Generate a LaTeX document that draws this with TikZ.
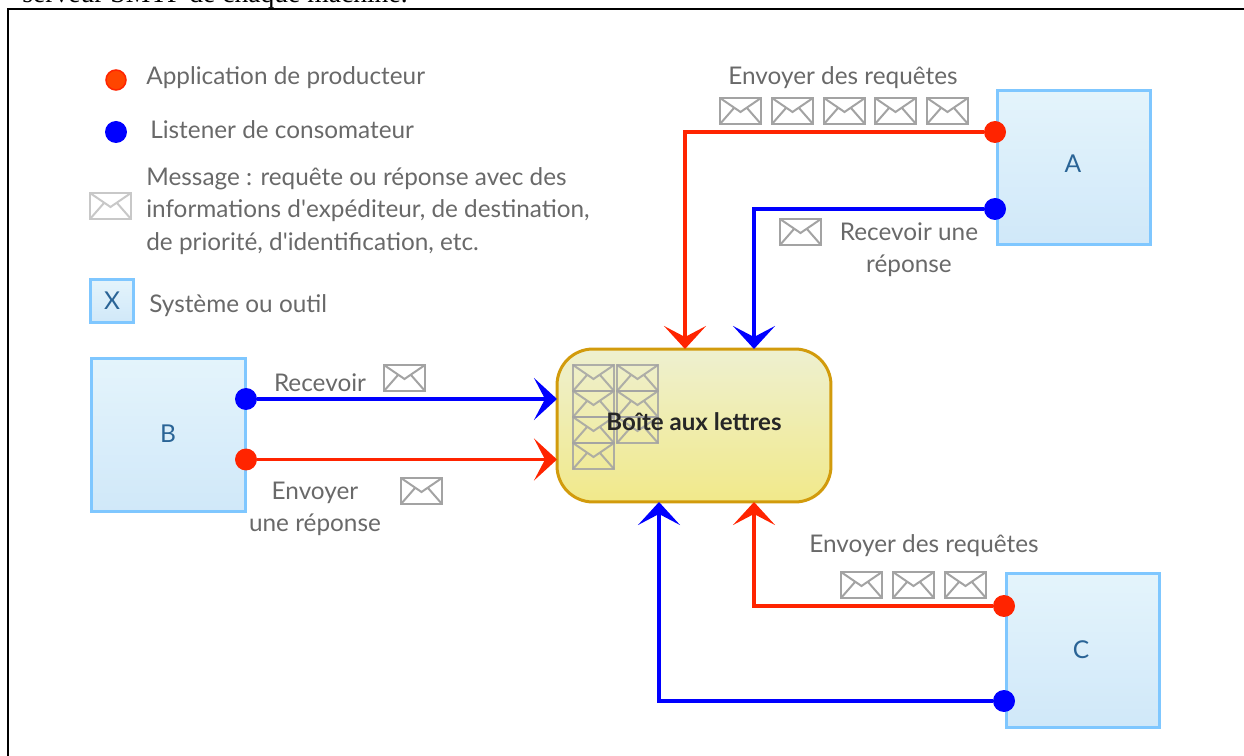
\documentclass[tikz,border=0pt]{standalone}
\usepackage{fontspec}
\setmainfont{Lato}
\newfontfamily\pageserif{Liberation Serif}
\usetikzlibrary{arrows.meta,positioning}
\definecolor{ProdRed}{HTML}{FF2400}
\definecolor{LegendRed}{HTML}{FF4500}
\definecolor{ConsBlue}{HTML}{0000FF}
\definecolor{SysEdge}{HTML}{7FC7FF}
\definecolor{SysTop}{HTML}{E4F4FB}
\definecolor{SysBottom}{HTML}{D0E8F9}
\definecolor{SysInk}{HTML}{2A6496}
\definecolor{BoxEdge}{HTML}{D29B0C}
\definecolor{BoxTop}{HTML}{EEF0D0}
\definecolor{BoxBottom}{HTML}{F1E98A}
\definecolor{MsgInk}{HTML}{696969}
\definecolor{EnvLine}{HTML}{A3A3A3}

\begin{document}
\begin{tikzpicture}[
      x=0.02cm, y=-0.02cm,
      MsgText/.style={text=MsgInk, font=\fontsize{13.85}{18.4}\selectfont, inner sep=0pt},
      SysName/.style={text=SysInk, font=\fontsize{14}{16}\selectfont},
      SysBox/.style={draw=SysEdge, line width=0.06cm, top color=SysTop, bottom color=SysBottom,
        minimum width=3.08cm, minimum height=3.08cm, inner sep=0pt},
      Port/.style={circle, fill=#1, minimum size=0.44cm, inner sep=0pt},
      Wire/.style={draw=#1, line width=0.07cm, -{Stealth[length=0.46cm, width=0.84cm, inset=0.22cm]}},
      pics/envelope/.style={code={
        \draw[draw=#1, line width=0.05cm] (0,0) rectangle (41,26);
        \draw[draw=#1, line width=0.04cm] (0,0) -- (20.5,14) -- (41,0) (0,26) -- (14,10) (41,26) -- (27,10);
      }},
      ]
      \useasboundingbox (0,0) rectangle (1244,756);

      \node[anchor=base west, inner sep=0pt, font=\pageserif\fontsize{15.7}{18}\selectfont] (PageLine) at (22,3) {serveur SMTP de chaque machine.};
      \draw[line width=0.05cm] (8,756) -- (8,9) -- (1244,9);

      % legend
      \node[Port=LegendRed, draw=ProdRed, line width=0.03cm, minimum size=0.4cm] (LegendProd) at (116,80) {};
      \node[Port=ConsBlue] (LegendCons) at (116,132) {};
      \node[MsgText, anchor=west] (ProdText) at (146,78) {Application de producteur};
      \node[MsgText, anchor=west] (ConsText) at (150,130) {Listener de consomateur};
      \pic at (90,193) {envelope=EnvLine!60};
      \node[MsgText, anchor=west, align=left] (MsgLegend) at (146,211) {Message : requête ou réponse avec des\\informations d\textquotesingle expéditeur, de destination,\\de priorité, d\textquotesingle identification, etc.};
      \node[SysBox, minimum width=0.88cm, minimum height=0.88cm] (LegendSys) at (112,301) {};
      \node[SysName] (LegendSysName) at (112,301) {X};
      \node[MsgText, anchor=west] (SysText) at (149,306) {Système ou outil};

      % systems
      \node[SysBox] (A) at (1074,167.5) {};
      \node[SysBox] (B) at (168.5,435) {};
      \node[SysBox] (C) at (1083,650.5) {};
      \node[SysName] (Aname) at (1073,164) {A};
      \node[SysName] (Bname) at (168,434) {B};
      \node[SysName] (Cname) at (1081,650) {C};

      % mailbox
      \node[draw=BoxEdge, line width=0.06cm, rounded corners=0.72cm, top color=BoxTop, bottom color=BoxBottom,
        minimum width=5.48cm, minimum height=3.06cm] (Mailbox) at (694,425.5) {};
      \foreach \row in {365,391,417,443} \pic[opacity=0.85] at (573,\row) {envelope=EnvLine};
      \foreach \row in {365,391,417} \pic[opacity=0.85] at (617,\row) {envelope=EnvLine};
      \node[font=\bfseries\fontsize{13.7}{16}\selectfont, text=black!85] (MailboxName) at (694,422) {Boîte aux lettres};

      % arrow ends on the mailbox
      \coordinate (TopProd) at (685,349);
      \coordinate (TopCons) at (754,349);
      \coordinate (LeftCons) at (557,399);
      \coordinate (LeftProd) at (557,459.5);
      \coordinate (BottomCons) at (659,502);
      \coordinate (BottomProd) at (754,502);

      \node[Port=ProdRed] (Aprod) at (995,132) {};
      \node[Port=ConsBlue] (Acons) at (995,209) {};
      \node[Port=ConsBlue] (Bcons) at (246,399) {};
      \node[Port=ProdRed] (Bprod) at (246,459.5) {};
      \node[Port=ProdRed] (Cprod) at (1004,606) {};
      \node[Port=ConsBlue] (Ccons) at (1004,701) {};

      \draw[Wire=ProdRed] (Aprod) -| (TopProd);
      \draw[Wire=ConsBlue] (Acons) -| (TopCons);
      \draw[Wire=ConsBlue] (Bcons) -- (LeftCons);
      \draw[Wire=ProdRed] (Bprod) -- (LeftProd);
      \draw[Wire=ProdRed] (Cprod) -| (BottomProd);
      \draw[Wire=ConsBlue] (Ccons) -| (BottomCons);

      % labels and messages
      \node[MsgText] (AsendText) at (843,78) {Envoyer des requêtes};
      \foreach \col in {720,772,824,875,927} \pic at (\col,98) {envelope=EnvLine};
      \pic at (780,219) {envelope=EnvLine};
      \node[MsgText, align=center] (AgetText) at (909,249.5) {Recevoir une\\réponse};
      \node[MsgText] (BgetText) at (320,383) {Recevoir};
      \pic at (384,365) {envelope=EnvLine};
      \node[MsgText, align=center] (BsendText) at (315,509) {Envoyer\\une réponse};
      \pic at (401,478) {envelope=EnvLine};
      \node[MsgText] (CsendText) at (924,546) {Envoyer des requêtes};
      \foreach \col in {841,893,945} \pic at (\col,572) {envelope=EnvLine};
    \end{tikzpicture}
\end{document}
